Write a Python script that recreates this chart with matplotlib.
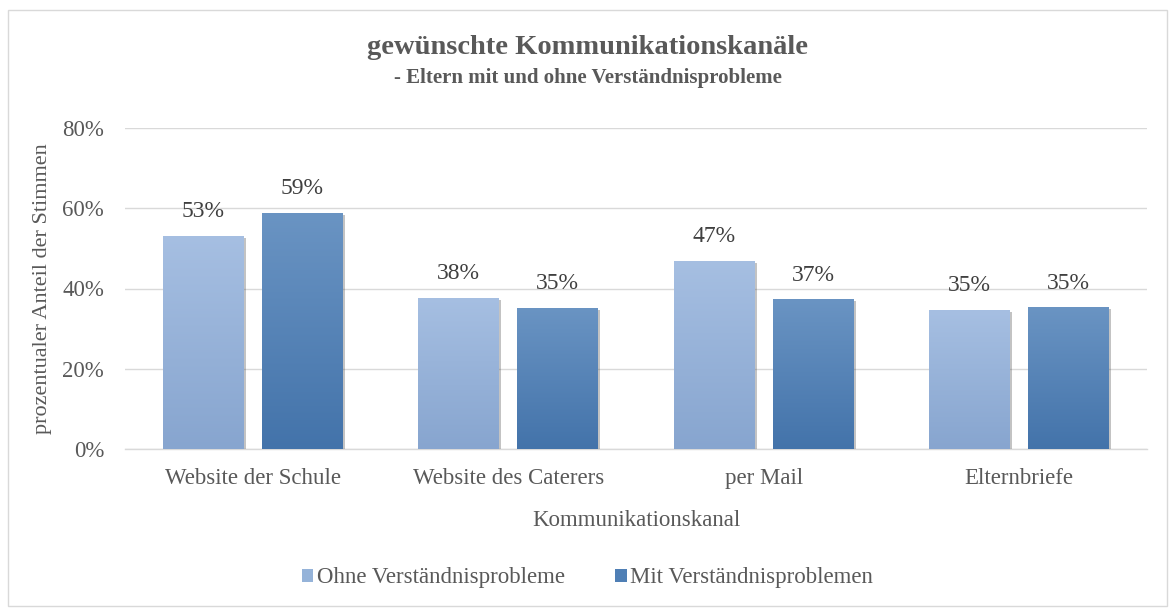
import matplotlib
matplotlib.use("Agg")
import matplotlib.pyplot as plt
import numpy as np
from matplotlib.colors import LinearSegmentedColormap
from matplotlib.patches import Patch, Rectangle
import matplotlib.patheffects as pe
from matplotlib.ticker import PercentFormatter

categories = ["Website der Schule", "Website des Caterers", "per Mail", "Elternbriefe"]
ohne = [0.531, 0.377, 0.469, 0.346]
mit = [0.588, 0.352, 0.373, 0.353]
series_names = ["Ohne Verständnisprobleme", "Mit Verständnisproblemen"]
title = "gewünschte Kommunikationskanäle"
subtitle = "- Eltern mit und ohne Verständnisprobleme"
xlabel = "Kommunikationskanal"
ylabel = "prozentualer Anteil der Stimmen"

plt.rcParams['font.family'] = ['Liberation Serif', 'DejaVu Serif']
text_col = "#595959"

fig = plt.figure(figsize=(11.75, 6.08), dpi=100)
fig.patches.append(Rectangle((0.007, 0.003), 0.986, 0.98, transform=fig.transFigure,
                             fill=False, edgecolor="#d9d9d9", linewidth=1))
ax = fig.add_axes([125/1175, 1-449/608, 1022/1175, (449-128)/608])

x = np.arange(len(categories))
w = 0.317
off = 0.194
grad = {
    0: ("#a6bfe2", "#87a5cf"),
    1: ("#6a94c3", "#4373aa"),
}
legend_cols = ["#95b3d9", "#4f7fb5"]
for si, vals in enumerate([ohne, mit]):
    pos = x - off if si == 0 else x + off
    bars = ax.bar(pos, vals, width=w, color=legend_cols[si], zorder=3)
    cmap = LinearSegmentedColormap.from_list("g%d" % si, [grad[si][1], grad[si][0]])
    for b, v in zip(bars, vals):
        b.set_path_effects([pe.SimplePatchShadow(offset=(1.5, -1.5), shadow_rgbFace="#555555", alpha=0.35), pe.Normal()])
        x0 = b.get_x(); x1 = x0 + b.get_width()
        im = ax.imshow(np.linspace(0, 1, 256).reshape(-1, 1), cmap=cmap, origin="lower",
                       extent=[x0, x1, 0, v], aspect="auto", zorder=4)
        im.set_clip_path(b)
        ax.annotate("%d%%" % round(v*100), (b.get_x() + b.get_width()/2, v),
                    xytext=(0, 13.5), textcoords="offset points",
                    ha="center", va="baseline", fontsize=17, color="#404040", zorder=5)

ax.set_xlim(-0.5, len(categories) - 0.5)
ax.set_ylim(0, 0.8)
ax.set_yticks([0, 0.2, 0.4, 0.6, 0.8])
ax.yaxis.set_major_formatter(PercentFormatter(1.0, decimals=0))
ax.set_xticks(x)
ax.set_xticklabels(categories)
ax.tick_params(axis="both", length=0, labelsize=16.5, colors=text_col)
ax.tick_params(axis="x", pad=14)
ax.tick_params(axis="y", pad=15)
ax.grid(axis="y", color="#d9d9d9", linewidth=1, zorder=0)
ax.set_axisbelow(True)
for s in ["top", "right", "left"]:
    ax.spines[s].set_visible(False)
ax.spines["bottom"].set_color("#d9d9d9")
ax.spines["bottom"].set_linewidth(1)

ax.set_xlabel(xlabel, fontsize=16.5, color=text_col)
ax.xaxis.set_label_coords(0.5, -(521-449)/321, transform=ax.transAxes)
ax.xaxis.label.set_va("center")
ax.set_ylabel(ylabel, fontsize=16, color=text_col)
ax.yaxis.set_label_coords(-(125-43)/1022, 0.5)
ax.yaxis.label.set_va("center")

fig.text(0.5, 1-47/608, title, ha="center", va="center", fontsize=20.5, fontweight="bold", color=text_col)
fig.text(0.5, 1-78/608, subtitle, ha="center", va="center", fontsize=15, fontweight="bold", color=text_col)

handles = [Patch(facecolor=legend_cols[i]) for i in range(2)]
fig.legend(handles, series_names, loc="center", bbox_to_anchor=(0.5, 1-578/608), ncol=2,
           frameon=False, fontsize=16.5, labelcolor=text_col, handlelength=0.5, handleheight=0.5,
           handletextpad=0.15, columnspacing=2.2)

fig.savefig("out.png", dpi=100)
